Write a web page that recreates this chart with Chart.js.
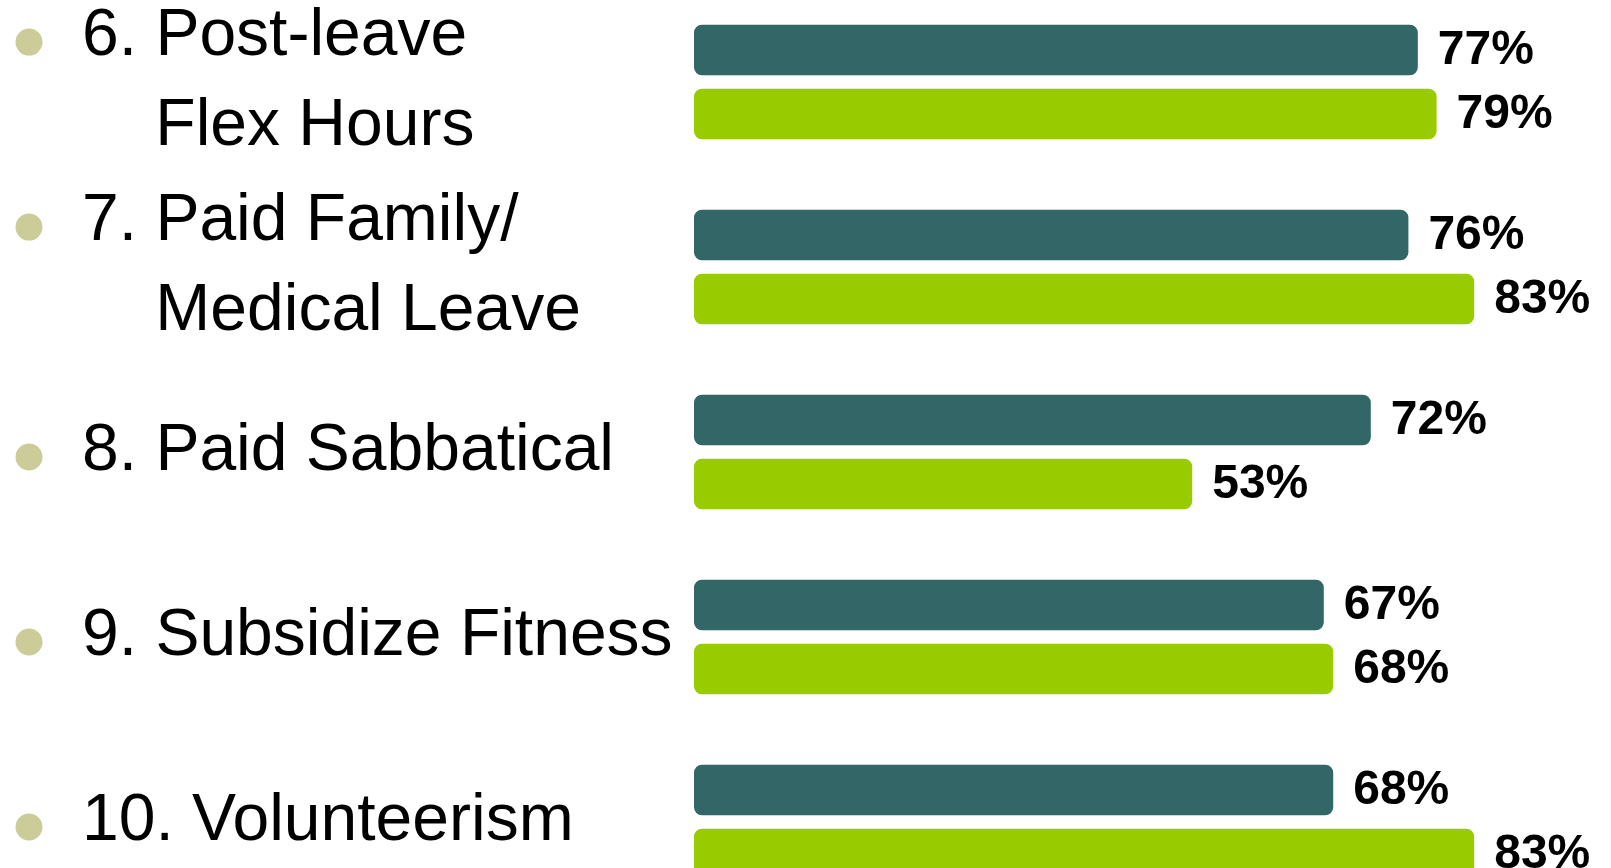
<!DOCTYPE html>
<html>
<head>
<meta charset="utf-8">
<script src="https://cdn.jsdelivr.net/npm/chart.js@4/dist/chart.umd.min.js"></script>
<style>
  html, body { margin: 0; padding: 0; background: #ffffff; }
  #wrap { position: relative; width: 1611px; height: 868px; }
</style>
</head>
<body>
<div id="wrap"><canvas id="chart"></canvas></div>
<script>
// ---- data ----
const categories = [
  ["6. Post-leave", "    Flex Hours"],
  ["7. Paid Family/", "    Medical Leave"],
  "8. Paid Sabbatical",
  "9. Subsidize Fitness",
  "10. Volunteerism"
];
const seriesNames = ["Series 1", "Series 2"];
const seriesDark = [77, 76, 72, 67, 68];
const seriesGreen = [79, 83, 53, 68, 83];
const valueSuffix = "%";

// ---- styling ----
const DARK = "#336666";
const GREEN = "#99CC00";
const BULLET = "#CCCC99";
const LABEL_FONT = { family: "'Liberation Sans', Arial, sans-serif", size: 66, lineHeight: 1.36 };

const valueLabels = {
  id: "valueLabels",
  afterDatasetsDraw(chart) {
    const ctx = chart.ctx;
    ctx.save();
    ctx.font = "bold 48px 'Liberation Sans', Arial, sans-serif";
    ctx.fillStyle = "#000000";
    ctx.textAlign = "left";
    ctx.textBaseline = "middle";
    chart.data.datasets.forEach((ds, di) => {
      const meta = chart.getDatasetMeta(di);
      meta.data.forEach((bar, i) => {
        ctx.fillText(ds.data[i] + valueSuffix, bar.x + 20, bar.y + 1);
      });
    });
    ctx.restore();
  }
};

const bullets = {
  id: "bullets",
  afterDraw(chart) {
    const ctx = chart.ctx;
    const y = chart.scales.y;
    const lh = LABEL_FONT.size * LABEL_FONT.lineHeight;
    ctx.save();
    ctx.fillStyle = BULLET;
    categories.forEach((lab, i) => {
      const n = Array.isArray(lab) ? lab.length : 1;
      const py = y.getPixelForTick(i) - (n - 1) * lh / 2 + 5;
      ctx.beginPath();
      ctx.ellipse(29, py, 13.5, 13.5, 0, 0, Math.PI * 2);
      ctx.fill();
    });
    ctx.restore();
  }
};

new Chart(document.getElementById("chart"), {
  type: "bar",
  data: {
    labels: categories,
    datasets: [
      { label: seriesNames[0], data: seriesDark, backgroundColor: DARK },
      { label: seriesNames[1], data: seriesGreen, backgroundColor: GREEN }
    ]
  },
  options: {
    indexAxis: "y",
    responsive: true,
    maintainAspectRatio: false,
    animation: false,
    layout: { padding: { left: 82, right: 24, top: 82, bottom: 46 } },
    datasets: {
      bar: {
        categoryPercentage: 0.692,
        barPercentage: 0.789,
        borderRadius: 8,
        borderSkipped: false,
        clip: false
      }
    },
    scales: {
      x: { display: false, min: 0, max: 95 },
      y: {
        type: "category",
        offset: false,
        grid: { display: false, drawTicks: false },
        border: { display: false },
        ticks: {
          autoSkip: false,
          crossAlign: "far",
          color: "#000000",
          font: LABEL_FONT
        },
        afterFit(scale) {
          scale.width = 694 - 82;
          scale.paddingTop = 0;
          scale.paddingBottom = 0;
        }
      }
    },
    plugins: {
      legend: { display: false },
      tooltip: { enabled: false }
    }
  },
  plugins: [valueLabels, bullets]
});
</script>
</body>
</html>
